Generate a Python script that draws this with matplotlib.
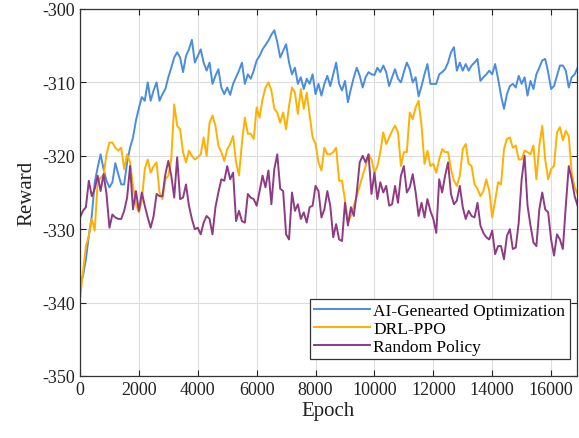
import numpy as np
import matplotlib
matplotlib.use("Agg")
import matplotlib.pyplot as plt

plt.rcParams['font.family'] = ['Liberation Serif', 'DejaVu Serif']
plt.rcParams['axes.unicode_minus'] = False

# epochs 0..16900, every 100
epochs = np.arange(0, 17000, 100)

ai_opt = [
    -337.3, -336.4, -334.1, -330.9, -328.2, -323.6, -321.6, -319.8, -321.8, -323.4,
    -324.3, -323.6, -321.0, -322.5, -323.9, -323.9, -320.9, -318.9, -317.5, -315.2,
    -313.5, -312.0, -312.5, -310.0, -312.5, -311.1, -310.0, -312.5, -311.6, -310.9,
    -309.3, -308.0, -306.6, -305.9, -306.6, -308.6, -306.4, -305.5, -304.2, -307.3,
    -306.4, -305.5, -307.3, -308.4, -307.3, -310.2, -309.1, -308.2, -310.7, -311.6,
    -310.7, -311.7, -310.2, -309.3, -308.4, -307.3, -310.2, -308.9, -309.5, -308.4,
    -307.0, -306.4, -305.5, -304.9, -304.3, -303.5, -302.9, -304.5, -306.6, -305.7,
    -304.8, -307.3, -308.9, -308.0, -310.2, -309.3, -310.9, -309.5, -310.2, -308.9,
    -311.6, -310.2, -311.8, -310.2, -309.1, -310.5, -308.9, -307.3, -310.2, -311.1,
    -309.8, -312.7, -310.9, -309.3, -308.0, -309.1, -310.7, -309.3, -308.6, -308.9,
    -309.0, -308.0, -308.6, -307.7, -308.6, -310.5, -309.3, -308.2, -309.5, -310.0,
    -308.6, -307.3, -308.2, -310.0, -309.3, -311.9, -310.5, -308.9, -307.5, -310.2,
    -310.2, -310.2, -308.9, -308.6, -308.2, -307.3, -305.9, -305.2, -308.4, -307.3,
    -308.4, -307.5, -308.4, -307.7, -307.3, -306.8, -309.8, -309.3, -308.9, -308.4,
    -308.9, -307.5, -309.5, -311.8, -313.6, -311.6, -310.5, -310.2, -310.7, -309.1,
    -310.2, -309.3, -311.8, -309.8, -310.9, -308.9, -308.0, -307.0, -306.8, -308.6,
    -310.9, -310.5, -309.1, -307.7, -307.7, -308.4, -310.7, -309.3, -308.9, -308.0,
]

drl_ppo = [
    -339.5, -335.9, -332.3, -330.9, -328.6, -330.2, -323.6, -323.0, -322.7, -319.8,
    -318.2, -318.2, -318.9, -319.3, -318.9, -321.8, -319.8, -320.9, -324.1, -326.6,
    -327.7, -326.1, -321.8, -320.5, -322.3, -321.4, -320.9, -325.0, -325.9, -323.2,
    -322.7, -320.5, -313.0, -315.9, -316.4, -319.5, -320.9, -319.3, -320.0, -320.5,
    -320.2, -319.8, -317.5, -320.0, -315.5, -314.5, -315.9, -318.6, -319.5, -320.7,
    -319.1, -318.4, -317.3, -320.9, -322.7, -318.2, -314.8, -317.0, -317.0, -317.7,
    -313.4, -314.8, -312.3, -310.7, -310.0, -311.1, -313.6, -314.1, -315.5, -314.1,
    -316.4, -313.2, -310.7, -311.4, -314.3, -310.9, -313.6, -311.4, -314.5, -317.5,
    -318.4, -320.9, -322.0, -318.9, -319.8, -319.8, -319.5, -318.9, -323.4, -323.4,
    -326.1, -329.1, -328.2, -326.8, -325.5, -324.1, -322.7, -321.4, -319.8, -320.5,
    -322.3, -321.4, -319.5, -316.8, -318.4, -317.5, -316.6, -315.9, -316.8, -321.4,
    -319.5, -319.5, -314.1, -315.0, -313.4, -312.5, -315.9, -321.1, -319.3, -321.4,
    -321.1, -322.3, -320.5, -319.1, -319.5, -319.5, -321.8, -323.4, -324.1, -322.7,
    -319.1, -318.4, -321.1, -321.4, -323.9, -324.5, -325.5, -324.8, -323.2, -324.8,
    -328.4, -326.1, -323.6, -323.9, -319.1, -317.7, -317.5, -318.9, -318.6, -320.5,
    -320.5, -319.3, -319.5, -319.8, -318.6, -323.2, -318.6, -315.9, -320.5, -323.2,
    -321.8, -321.4, -316.8, -316.1, -317.9, -316.6, -317.3, -322.3, -324.3, -325.2,
]

random_policy = [
    -328.4, -327.5, -327.0, -323.4, -325.5, -324.5, -322.7, -324.8, -322.5, -325.2,
    -329.8, -328.0, -328.4, -328.6, -328.6, -327.5, -325.7, -321.4, -327.3, -324.8,
    -327.5, -325.0, -326.8, -328.4, -329.8, -328.2, -325.2, -325.5, -325.5, -322.5,
    -320.7, -322.7, -325.7, -320.2, -325.9, -325.7, -323.9, -326.8, -328.6, -330.0,
    -329.8, -330.7, -329.1, -328.2, -328.6, -330.7, -327.0, -325.0, -323.2, -323.4,
    -321.4, -323.2, -322.3, -328.9, -327.5, -328.9, -329.1, -325.2, -325.7, -325.9,
    -326.8, -324.8, -322.7, -324.3, -322.0, -326.6, -321.8, -319.8, -324.5, -324.8,
    -330.7, -331.4, -325.0, -327.5, -326.6, -328.6, -327.7, -329.1, -327.0, -326.8,
    -324.1, -324.8, -328.4, -327.3, -324.8, -326.8, -331.1, -329.3, -331.4, -331.6,
    -326.4, -329.5, -327.0, -328.2, -325.0, -320.9, -320.0, -320.9, -319.8, -325.2,
    -322.3, -325.9, -323.6, -325.0, -324.1, -326.8, -326.6, -324.1, -326.4, -322.7,
    -321.4, -325.0, -324.3, -322.5, -325.0, -328.2, -326.4, -328.4, -325.9, -327.5,
    -328.6, -330.5, -323.2, -325.0, -322.7, -320.9, -325.2, -326.6, -326.1, -324.1,
    -327.0, -328.6, -327.5, -328.2, -328.4, -326.4, -329.5, -330.5, -331.1, -331.4,
    -330.2, -333.4, -332.3, -332.3, -334.1, -330.9, -330.0, -332.7, -332.5, -329.1,
    -323.2, -320.0, -326.8, -329.5, -331.8, -332.3, -327.3, -325.0, -327.3, -327.7,
    -331.4, -333.6, -330.7, -331.4, -332.7, -326.8, -321.4, -323.2, -325.5, -326.8,
]

fig = plt.figure(figsize=(5.79, 4.39), dpi=100)
ax = fig.add_axes([80 / 579, 1 - 377 / 439, 497 / 579, 367 / 439])

ax.plot(epochs, ai_opt, color='#4A8CDE', lw=1.4, label='AI-Genearted Optimization')
ax.plot(epochs, drl_ppo, color='#FFB000', lw=1.4, label='DRL-PPO')
ax.plot(epochs, random_policy, color='#8E3B84', lw=1.4, label='Random Policy')

ax.set_xlim(0, 16880)
ax.set_ylim(-350, -300)
ax.set_xticks(np.arange(0, 16001, 2000))
ax.set_yticks(np.arange(-350, -299, 10))
ax.grid(True, color='#dddddd', lw=0.8)
ax.set_axisbelow(True)
ax.tick_params(direction='in', top=True, right=True, length=4, labelsize=13,
               colors='#222222', labelcolor='#222222')
for s in ax.spines.values():
    s.set_color('#333333')
    s.set_linewidth(0.9)

ax.set_xlabel('Epoch', fontsize=15, color='#222222', labelpad=2)
ax.set_ylabel('Reward', fontsize=15, color='#222222', labelpad=4)

leg = ax.legend(loc='lower right', bbox_to_anchor=(0.985, 0.045), fontsize=12.5,
                fancybox=False, framealpha=1, edgecolor='#333333',
                handlelength=3.2, handletextpad=0.2, borderpad=0.25,
                labelspacing=0.1, borderaxespad=0)
leg.get_frame().set_linewidth(0.9)

fig.savefig('out.png', dpi=100)
